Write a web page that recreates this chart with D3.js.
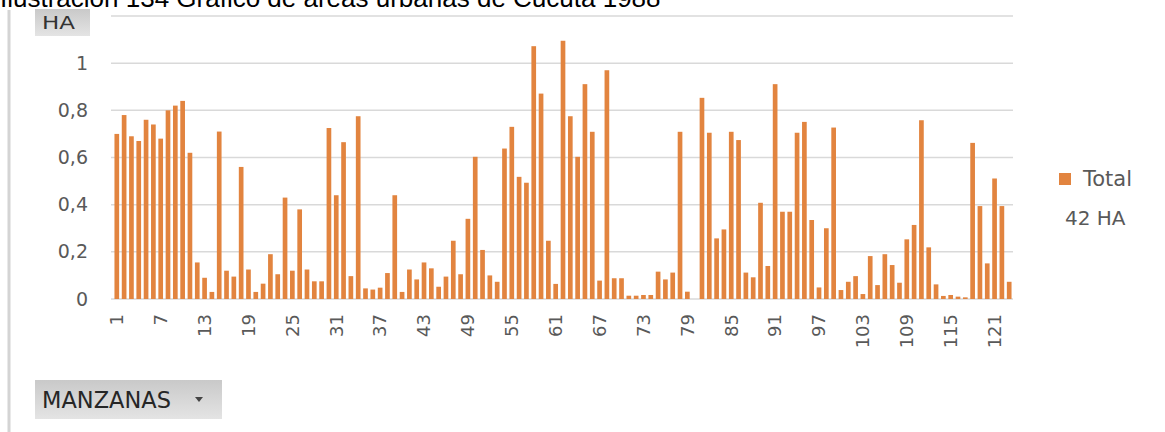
<!DOCTYPE html>
<html>
<head>
<meta charset="utf-8">
<script src="https://cdn.jsdelivr.net/npm/d3@7"></script>
<style>
  html, body { margin: 0; padding: 0; background: #fff; }
  svg { display: block; }
</style>
</head>
<body>
<svg id="chart" width="1165" height="432"></svg>
<script>
// Manzanas (city blocks) numbered 1..123
const manzanas = d3.range(1, 124);

// Area of each manzana in hectares
const areaHa = [
  0.70, 0.78, 0.69, 0.67, 0.76, 0.74, 0.68, 0.80, 0.82, 0.84,
  0.62, 0.155, 0.09, 0.03, 0.71, 0.12, 0.095, 0.56, 0.125, 0.03,
  0.065, 0.19, 0.105, 0.43, 0.12, 0.38, 0.125, 0.075, 0.075, 0.725,
  0.44, 0.665, 0.097, 0.775, 0.045, 0.04, 0.048, 0.11, 0.44, 0.03,
  0.125, 0.083, 0.155, 0.13, 0.052, 0.095, 0.247, 0.105, 0.34, 0.603,
  0.208, 0.10, 0.073, 0.638, 0.73, 0.518, 0.493, 1.072, 0.871, 0.247,
  0.064, 1.095, 0.775, 0.603, 0.911, 0.709, 0.078, 0.97, 0.088, 0.088,
  0.014, 0.014, 0.017, 0.017, 0.116, 0.083, 0.112, 0.709, 0.031, 0,
  0.853, 0.705, 0.257, 0.295, 0.709, 0.674, 0.112, 0.092, 0.408, 0.14,
  0.911, 0.37, 0.37, 0.705, 0.751, 0.335, 0.049, 0.30, 0.727, 0.038,
  0.073, 0.097, 0.021, 0.182, 0.059, 0.19, 0.144, 0.069, 0.253, 0.314,
  0.758, 0.219, 0.062, 0.013, 0.017, 0.01, 0.007, 0.662, 0.394, 0.151,
  0.511, 0.394, 0.073
];

// Axis ticks
const yTicks = [0, 0.2, 0.4, 0.6, 0.8, 1];
const gridLevels = [0, 0.2, 0.4, 0.6, 0.8, 1, 1.2];
const xTickValues = manzanas.filter((d, i) => i % 6 === 0);

// Texts
const titleText = "Ilustración 134 Gráfico de áreas urbanas de Cúcuta 1988";
const seriesName = "Total";
const totalText = "42 HA";
const yFieldButton = "HA";
const xFieldButton = "MANZANAS";

const barColor = "#E2843F";
const textColor = "#595959";
const font = "DejaVu Sans, Verdana, sans-serif";

const svg = d3.select("#chart");

svg.append("rect").attr("width", 1165).attr("height", 432).attr("fill", "#fff");

// Caption line above the chart (its upper part runs off the top edge)
svg.append("text")
  .attr("x", 0).attr("y", 7)
  .attr("font-family", "Liberation Sans, Arial, sans-serif")
  .attr("font-size", 26)
  .attr("fill", "#000")
  .text(titleText);

// Left frame edge
svg.append("line")
  .attr("x1", 9).attr("x2", 9).attr("y1", 10).attr("y2", 432)
  .attr("stroke", "#d4d4d4").attr("stroke-width", 3);

const x = d3.scaleBand()
  .domain(manzanas)
  .range([113, 1013])
  .paddingInner(0.36)
  .paddingOuter(0.2);

const y = d3.scaleLinear()
  .domain([0, 1.2])
  .range([299, 16]);

const fmt = d3.formatLocale({ decimal: ",", thousands: ".", grouping: [3], currency: ["", ""] }).format("~g");

// Gridlines
svg.append("g")
  .selectAll("line")
  .data(gridLevels)
  .join("line")
  .attr("x1", 111).attr("x2", 1013)
  .attr("y1", d => y(d)).attr("y2", d => y(d))
  .attr("stroke", "#d9d9d9").attr("stroke-width", 1.5);

// Bars
svg.append("g")
  .selectAll("rect")
  .data(manzanas)
  .join("rect")
  .attr("x", d => x(d))
  .attr("width", x.bandwidth())
  .attr("y", (d, i) => y(areaHa[i]))
  .attr("height", (d, i) => y(0) - y(areaHa[i]))
  .attr("fill", barColor);

// Y axis
const yAxis = svg.append("g")
  .attr("transform", "translate(113,0)")
  .call(d3.axisLeft(y).tickValues(yTicks).tickFormat(fmt).tickSize(0).tickPadding(25));
yAxis.select(".domain").remove();
yAxis.selectAll("text")
  .attr("font-family", font).attr("font-size", 19).attr("fill", textColor);

// X axis
const xAxis = svg.append("g")
  .attr("transform", "translate(0,299)")
  .call(d3.axisBottom(x).tickValues(xTickValues).tickSize(0));
xAxis.select(".domain").remove();
xAxis.selectAll("text")
  .attr("transform", "rotate(-90)")
  .attr("x", -15).attr("y", 0).attr("dy", "0.35em")
  .attr("text-anchor", "end")
  .attr("font-family", font).attr("font-size", 18).attr("fill", textColor);

// Legend
svg.append("rect")
  .attr("x", 1059).attr("y", 173).attr("width", 12).attr("height", 12)
  .attr("fill", barColor);
svg.append("text")
  .attr("x", 1083).attr("y", 186)
  .attr("font-family", font).attr("font-size", 21).attr("fill", textColor)
  .text(seriesName);
svg.append("text")
  .attr("x", 1065).attr("y", 225)
  .attr("font-family", font).attr("font-size", 20).attr("fill", textColor)
  .text(totalText);

// Field buttons
const grad = svg.append("defs").append("linearGradient")
  .attr("id", "btn").attr("x1", 0).attr("x2", 0).attr("y1", 0).attr("y2", 1);
grad.append("stop").attr("offset", "0%").attr("stop-color", "#c9c9c9");
grad.append("stop").attr("offset", "100%").attr("stop-color", "#e4e4e4");

svg.append("rect")
  .attr("x", 35).attr("y", 9).attr("width", 55).attr("height", 27)
  .attr("fill", "url(#btn)");
svg.append("text")
  .attr("x", 42).attr("y", 29)
  .attr("font-family", font).attr("font-size", 18).attr("fill", "#333")
  .attr("textLength", 33).attr("lengthAdjust", "spacingAndGlyphs")
  .text(yFieldButton);

svg.append("rect")
  .attr("x", 35).attr("y", 380).attr("width", 187).attr("height", 39)
  .attr("fill", "url(#btn)");
svg.append("text")
  .attr("x", 42).attr("y", 408)
  .attr("font-family", font).attr("font-size", 22.5).attr("fill", "#262626")
  .text(xFieldButton);
svg.append("path")
  .attr("d", d3.line()([[195, 397], [203, 397], [199, 402]]) + "Z")
  .attr("fill", "#444");
</script>
</body>
</html>
